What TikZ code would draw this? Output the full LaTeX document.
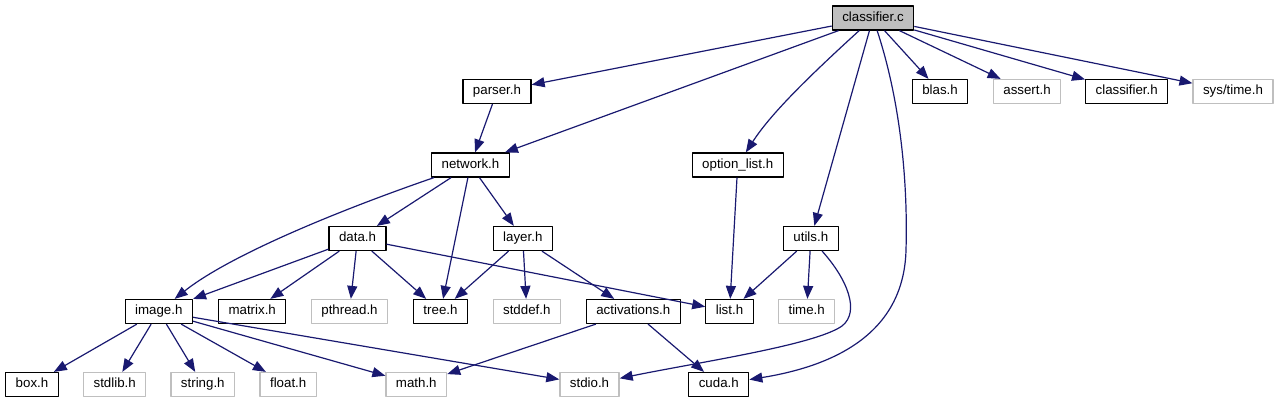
\documentclass[tikz,border=0pt]{standalone}
\usepackage{fontspec}
\setmainfont{Liberation Sans}
\usepackage{tikz}
\usetikzlibrary{arrows.meta}
\usepackage{xcolor}
\definecolor{incblue}{RGB}{25,25,112}
\definecolor{sysgray}{RGB}{191,191,191}
\newcommand{\incfont}{\fontsize{13.3}{15}\selectfont}
\tikzset{
  file box/.style={draw=black,line width=1.2pt,font=\incfont,inner xsep=10pt,
    inner ysep=0pt,minimum height=24pt,text height=9.8pt,text depth=2.8pt},
  sys box/.style={file box,draw=sysgray},
  main box/.style={file box,fill=sysgray},
  inc edge/.style={draw=incblue,line width=1.2pt,
    -{Triangle[length=13pt,width=10pt]},fill=none}
}

\begin{document}
\begin{tikzpicture}[x=1pt,y=-1pt,line join=round]
  \useasboundingbox (0,0) rectangle (1280,403);

  % rank 0 and 1
  \node[main box] (cls)     at (873,18)     {classifier.c};
  \node[file box] (parser)  at (497,91.5)   {parser.h};
  \node[file box] (blas)    at (940,91.5)   {blas.h};
  \node[sys box]  (assert)  at (1027,91.5)  {assert.h};
  \node[file box] (clsh)    at (1126.7,91.5){classifier.h};
  \node[sys box]  (systime) at (1233,91.5)  {sys/time.h};

  % rank 2 and 3
  \node[file box] (network) at (470.5,165)  {network.h};
  \node[file box] (optlist) at (737.7,165)  {option\_list.h};
  \node[file box] (data)    at (357.5,238.5){data.h};
  \node[file box] (layer)   at (522.8,238.5){layer.h};
  \node[file box] (utils)   at (810.8,238.5){utils.h};

  % rank 4
  \node[file box] (image)   at (158.8,311.5){image.h};
  \node[file box] (matrix)  at (252.2,311.5){matrix.h};
  \node[sys box]  (pthread) at (349.5,311.5){pthread.h};
  \node[file box] (tree)    at (440.5,311.5){tree.h};
  \node[sys box]  (stddef)  at (526.8,311.5){stddef.h};
  \node[file box] (activ)   at (633.3,311.5){activations.h};
  \node[file box] (list)    at (729.5,311.5){list.h};
  \node[sys box]  (time)    at (806.7,311.5){time.h};

  % rank 5
  \node[file box] (box)     at (32,384.5)   {box.h};
  \node[sys box]  (stdlib)  at (114.7,384.5){stdlib.h};
  \node[sys box]  (string)  at (202.8,384.5){string.h};
  \node[sys box]  (float)   at (288.2,384.5){float.h};
  \node[sys box]  (math)    at (416.3,384.5){math.h};
  \node[sys box]  (stdio)   at (589.5,384.5){stdio.h};
  \node[file box] (cuda)    at (718.8,384.5){cuda.h};

  % straight includes
  \foreach \a/\b in {cls/parser,cls/network,cls/utils,cls/blas,cls/assert,
      cls/clsh,cls/systime,parser/network,network/data,network/tree,
      network/layer,optlist/list,data/image,data/matrix,data/pthread,
      data/tree,data/list,layer/tree,layer/stddef,layer/activ,utils/list,
      utils/time,image/box,image/stdlib,image/string,image/float,
      image/math,image/stdio,activ/math,activ/cuda}
    \draw[inc edge] (\a) -- (\b);

  % curved includes
  \draw[inc edge] (cls) .. controls (805,80) and (770,115) .. (optlist);
  \draw[inc edge] (network) .. controls (340,210) and (230,255) .. (image);
  \draw[inc edge] (cls) .. controls (900,100) and (908,180) .. (906,250)
        .. controls (904,330) and (840,365) .. (cuda);
  \draw[inc edge] (utils) .. controls (848,280) and (860,312) .. (842,326)
        .. controls (815,345) and (700,362) .. (stdio);
\end{tikzpicture}
\end{document}
